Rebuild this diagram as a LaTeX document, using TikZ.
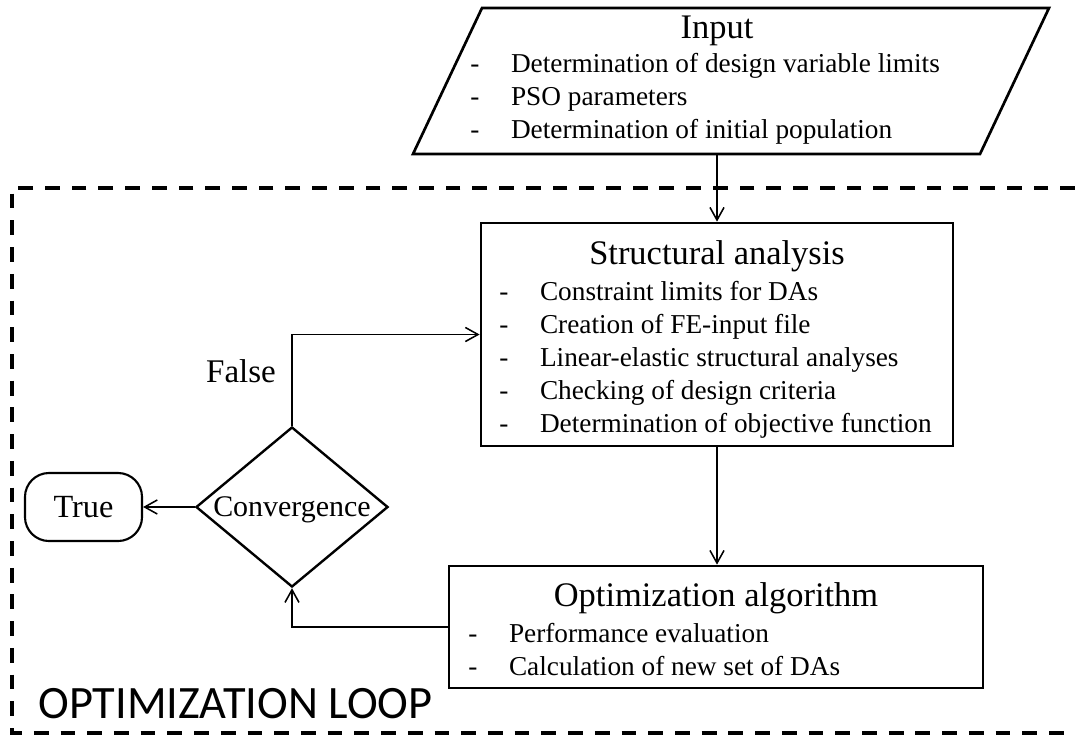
\documentclass[tikz,border=0pt]{standalone}
\usepackage{fontspec}
\setmainfont{Liberation Serif}
\newfontfamily\loopfont{Carlito}
\usetikzlibrary{arrows.meta,shapes.geometric,positioning}
\newcommand{\bitem}[1]{\makebox[29pt][l]{-}#1}
\tikzset{
	x=0.025cm, y=-0.025cm,
	>={Straight Barb[length=9pt,width=10pt]}, % open v-shaped heads
	flow/.style={->, line width=1.1pt},
	titletext/.style={font=\fontsize{24.5}{28}\selectfont, inner sep=0pt, anchor=base},
	itemtext/.style={font=\fontsize{19.4}{23.5}\selectfont, align=left, inner sep=0pt, anchor=north west},
	procbox/.style={draw, line width=1.9pt, rectangle, inner sep=0pt},
	iobox/.style={draw, line width=1.9pt, line join=miter},
	decision/.style={draw, line width=1.7pt, diamond, aspect=1.2, inner sep=0pt,
		text depth=0pt, font=\fontsize{21.3}{25}\selectfont},
	terminal/.style={draw, line width=1.5pt, rounded corners=0.6cm, inner sep=0pt,
		font=\fontsize{23}{27}\selectfont},
	loopframe/.style={line width=2.6pt, dash pattern=on 10.5pt off 8.5pt},
}
\begin{document}
\begin{tikzpicture}
	\useasboundingbox (0,0) rectangle (1075,737);

	% the loop frame, open on the right
	\draw[loopframe] (1075,188) -- (12,188) -- (12,733) -- (1075,733);
	\node[font=\loopfont\fontsize{33}{38}\selectfont, anchor=base west, inner sep=0pt] (looplabel) at (38,718) {OPTIMIZATION LOOP};

	% input (parallelogram)
	\draw[iobox] (413,154) -- (482,8) -- (1049,8) -- (980,154) -- cycle;
	\coordinate (inbot) at (717,154);
	\node[titletext] (inputtitle) at (717,38) {Input};
	\node[itemtext] (inputlist) at (470,53.3) {\bitem{Determination of design variable limits}\\
		\bitem{PSO parameters}\\
		\bitem{Determination of initial population}};

	% structural analysis
	\node[procbox, minimum width=11.8cm, minimum height=5.575cm] (struct) at (717,334.5) {};
	\node[titletext] (structtitle) at (717,264) {Structural analysis};
	\node[itemtext] (structlist) at (499,281.3) {\bitem{Constraint limits for DAs}\\
		\bitem{Creation of FE-input file}\\
		\bitem{Linear-elastic structural analyses}\\
		\bitem{Checking of design criteria}\\
		\bitem{Determination of objective function}};

	% optimization algorithm
	\node[procbox, minimum width=13.35cm, minimum height=3.05cm] (opt) at (716,627) {};
	\node[titletext] (opttitle) at (716,606.7) {Optimization algorithm};
	\node[itemtext] (optlist) at (468,623.3) {\bitem{Performance evaluation}\\
		\bitem{Calculation of new set of DAs}};

	% convergence check
	\node[decision, minimum width=4.8cm, minimum height=4cm] (conv) at (292,507) {Convergence};
	\node[terminal, minimum width=2.925cm, minimum height=1.7cm] (truebox) at (83.5,507) {True};
	\node[font=\fontsize{23.5}{27}\selectfont, inner sep=0pt] (falselabel) at (241,371) {False};

	\draw[flow] (inbot) -- (inbot |- struct.north);
	\draw[flow] (struct.south) -- (struct.south |- opt.north);
	\draw[flow] (opt.west) -| (conv.south);
	\draw[flow] (conv.north) |- (struct.west);
	\draw[flow] (conv.west) -- (truebox.east);
\end{tikzpicture}
\end{document}
